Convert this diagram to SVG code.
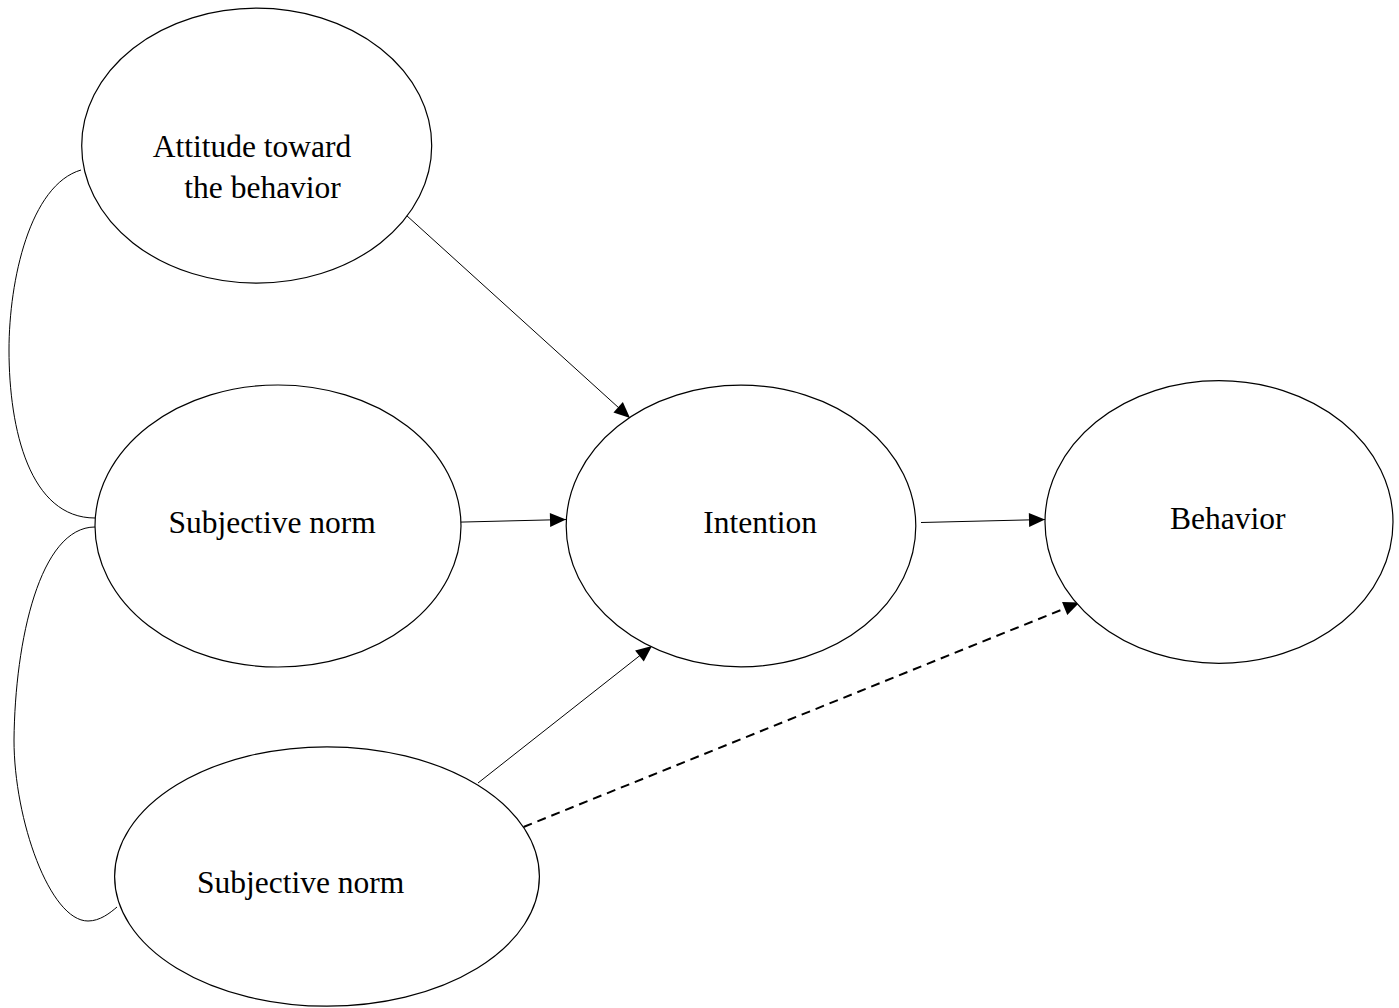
<svg xmlns="http://www.w3.org/2000/svg" width="1399" height="1008" viewBox="0 0 1399 1008">
  <style>
    .node { fill: #ffffff; stroke: #000000; stroke-width: 1.2; }
    .label { font-family: "Liberation Serif", "Times New Roman", serif; font-size: 31.5px; fill: #000000; }
    .conn { fill: none; stroke: #000000; stroke-width: 1; }
    .arrow { marker-end: url(#ah); }
    .dashed { stroke-width: 2; stroke-dasharray: 9 6; }
  </style>
  <defs>
    <marker id="ah" markerUnits="userSpaceOnUse" markerWidth="16" markerHeight="14" refX="16" refY="7" orient="auto" overflow="visible">
      <path d="M0,0 L16,7 L0,14 Z" fill="#000000" stroke="none"/>
    </marker>
  </defs>
  <rect width="1399" height="1008" fill="#ffffff"/>

  <g id="connectors">
    <path class="conn" d="M81,170 C30,185 9,280 9,350 C9,430 30,518 95,518"/>
    <path class="conn" d="M95,527 C40,527 15,640 14,740 C14,820 50,921 88,921 C100,921 110,913 117,907"/>
    <line class="conn arrow" x1="406" y1="215" x2="630" y2="418"/>
    <line class="conn arrow" x1="444" y1="522.5" x2="566" y2="519.5"/>
    <line class="conn arrow" x1="921" y1="522.5" x2="1045" y2="519.5"/>
    <line class="conn arrow" x1="478" y1="783" x2="652" y2="646"/>
    <line class="conn arrow dashed" x1="523.5" y1="827" x2="1079.5" y2="602.5"/>
  </g>

  <g id="attitude">
    <ellipse class="node" cx="256.7" cy="145.7" rx="175" ry="137.5"/>
    <text class="label" x="152.7" y="156.7">Attitude toward</text>
    <text class="label" x="184.3" y="198.3">the behavior</text>
  </g>
  <g id="subjective-norm-1">
    <ellipse class="node" cx="278" cy="526" rx="183" ry="141"/>
    <text class="label" x="168.4" y="533.3">Subjective norm</text>
  </g>
  <g id="subjective-norm-2">
    <ellipse class="node" cx="327" cy="876.5" rx="212.4" ry="129.7"/>
    <text class="label" x="197" y="892.7">Subjective norm</text>
  </g>
  <g id="intention">
    <ellipse class="node" cx="741" cy="526" rx="174.8" ry="140.8"/>
    <text class="label" x="703.3" y="533.3">Intention</text>
  </g>
  <g id="behavior">
    <ellipse class="node" cx="1219" cy="522" rx="174" ry="141.3"/>
    <text class="label" x="1170" y="529.3">Behavior</text>
  </g>
</svg>
